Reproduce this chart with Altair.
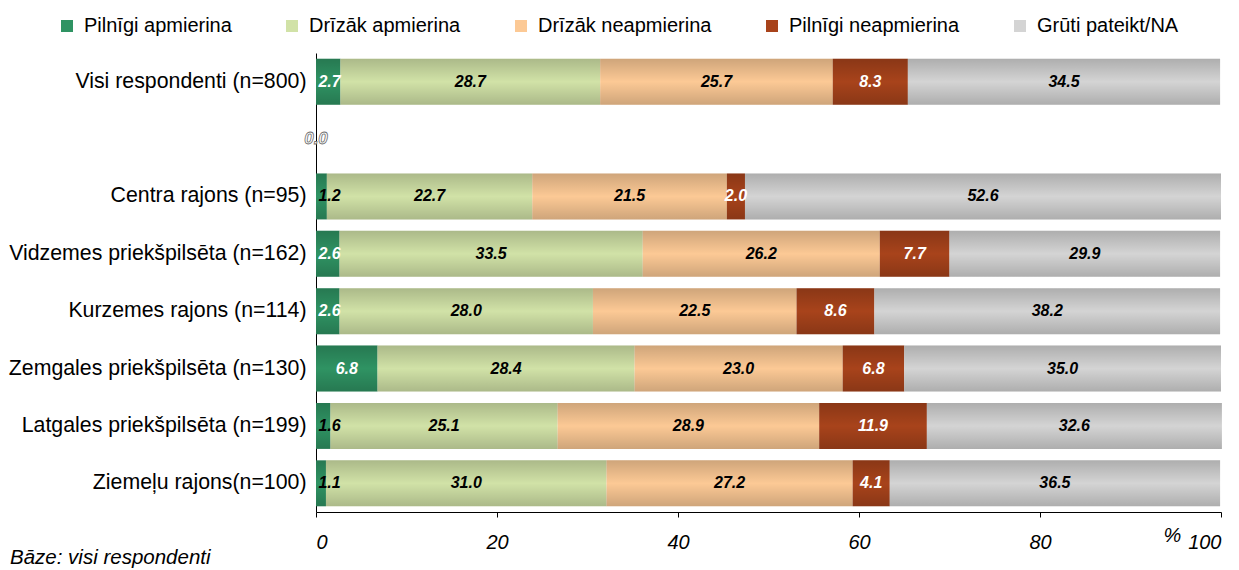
import altair as alt
import pandas as pd

FONT = "Liberation Sans"

rows = [
    "Visi respondenti (n=800)",
    "Centra rajons (n=95)",
    "Vidzemes priekšpilsēta (n=162)",
    "Kurzemes rajons (n=114)",
    "Zemgales priekšpilsēta (n=130)",
    "Latgales priekšpilsēta (n=199)",
    "Ziemeļu rajons(n=100)",
]
gap_row = " "
axis_rows = [rows[0], gap_row] + rows[1:]

categories = [
    "Pilnīgi apmierina",
    "Drīzāk apmierina",
    "Drīzāk neapmierina",
    "Pilnīgi neapmierina",
    "Grūti pateikt/NA",
]
colors = ["#2f9363", "#d1e2a7", "#fcc995", "#a8431b", "#d4d4d4"]

pilnigi_apmierina = [2.7, 1.2, 2.6, 2.6, 6.8, 1.6, 1.1]
drizak_apmierina = [28.7, 22.7, 33.5, 28.0, 28.4, 25.1, 31.0]
drizak_neapmierina = [25.7, 21.5, 26.2, 22.5, 23.0, 28.9, 27.2]
pilnigi_neapmierina = [8.3, 2.0, 7.7, 8.6, 6.8, 11.9, 4.1]
gruti_pateikt = [34.5, 52.6, 29.9, 38.2, 35.0, 32.6, 36.5]
gap_value = [0.0]

series = [pilnigi_apmierina, drizak_apmierina, drizak_neapmierina,
          pilnigi_neapmierina, gruti_pateikt]

records = []
for ci, (cat, vals) in enumerate(zip(categories, series)):
    for r, v in zip(rows, vals):
        records.append({"row": r, "cat": cat, "value": v, "ord": ci})
df = pd.DataFrame(records)
gap_df = pd.DataFrame({"row": [gap_row] * len(gap_value), "value": gap_value})

y_enc = alt.Y(
    "row:N",
    sort=axis_rows,
    scale=alt.Scale(domain=axis_rows, paddingInner=0.2, paddingOuter=0.1),
    axis=alt.Axis(
        title=None, ticks=False, domainColor="black", domainWidth=1,
        labelFont=FONT, labelFontSize=21.3, labelColor="black",
        labelPadding=10, labelLimit=400,
    ),
)

x_axis = alt.Axis(
    values=[0, 20, 40, 60, 80, 100], grid=False, domainColor="black",
    tickColor="black", tickSize=5, labelFont=FONT, labelFontSize=20,
    labelFontStyle="italic", labelColor="black", labelPadding=15,
    title="%", titleX=856, titleY=23, titleAlign="center",
    titleBaseline="middle", titleFont=FONT, titleFontSize=20,
    titleFontWeight="normal", titleFontStyle="italic", titleColor="black",
)

base = alt.Chart(df).transform_stack(
    stack="value", groupby=["row"], as_=["x0", "x1"],
    sort=[alt.SortField("ord", order="ascending")],
).transform_calculate(
    mid="datum.ord == 0 ? max((datum.x0 + datum.x1) / 2, 1.5) : (datum.x0 + datum.x1) / 2"
)

bars = base.mark_bar(strokeWidth=0).encode(
    y=y_enc,
    x=alt.X("x0:Q", scale=alt.Scale(domain=[0, 100], nice=False), axis=x_axis),
    x2="x1:Q",
    color=alt.Color(
        "cat:N", sort=categories,
        scale=alt.Scale(domain=categories, range=colors),
        legend=alt.Legend(
            orient="none", legendX=-259, legendY=-37, direction="horizontal",
            title=None, symbolType="square", symbolSize=144,
            symbolStrokeWidth=0, labelFont=FONT, labelFontSize=20,
            labelColor="black", labelOffset=7, columnPadding=50, padding=0,
            labelLimit=400,
        ),
    ),
)

shade = base.mark_bar(
    strokeWidth=0,
    color=alt.Gradient(
        gradient="linear", x1=0, y1=0, x2=0, y2=1,
        stops=[
            alt.GradientStop(offset=0, color="rgba(0,0,0,0.18)"),
            alt.GradientStop(offset=0.5, color="rgba(0,0,0,0)"),
            alt.GradientStop(offset=1, color="rgba(0,0,0,0.18)"),
        ],
    ),
).encode(y=alt.Y("row:N", sort=axis_rows), x="x0:Q", x2="x1:Q")

labels = base.mark_text(
    font=FONT, fontSize=16, fontStyle="italic", fontWeight="bold",
    align="center", baseline="middle",
).encode(
    y=alt.Y("row:N", sort=axis_rows),
    x="mid:Q",
    text=alt.Text("value:Q", format=".1f"),
    color=alt.condition(
        "(datum.cat == 'Pilnīgi apmierina' && datum.value >= 2) || datum.cat == 'Pilnīgi neapmierina'",
        alt.value("white"), alt.value("black"),
    ),
)

gap_label = alt.Chart(gap_df).mark_text(
    font=FONT, fontSize=17, fontStyle="italic", fontWeight="bold",
    align="center", baseline="middle", fill="white", stroke="#6e6e6e",
    strokeWidth=0.8,
).encode(
    y=alt.Y("row:N", sort=axis_rows),
    x="value:Q",
    text=alt.Text("value:Q", format=".1f"),
)

chart = alt.layer(bars, shade, labels, gap_label).properties(
    width=905,
    height=459,
    autosize=alt.AutoSizeParams(type="none"),
    padding={"left": 308, "top": 45, "right": 10, "bottom": 60},
    title=alt.TitleParams(
        text="Bāze: visi respondenti", orient="bottom", anchor="start",
        frame="group", dx=-306, offset=-4, font=FONT, fontSize=20.5,
        fontStyle="italic", fontWeight="normal", color="black",
    ),
).configure_view(strokeWidth=0)

chart.save("out.html", embed_options={"renderer": "svg", "actions": False})
